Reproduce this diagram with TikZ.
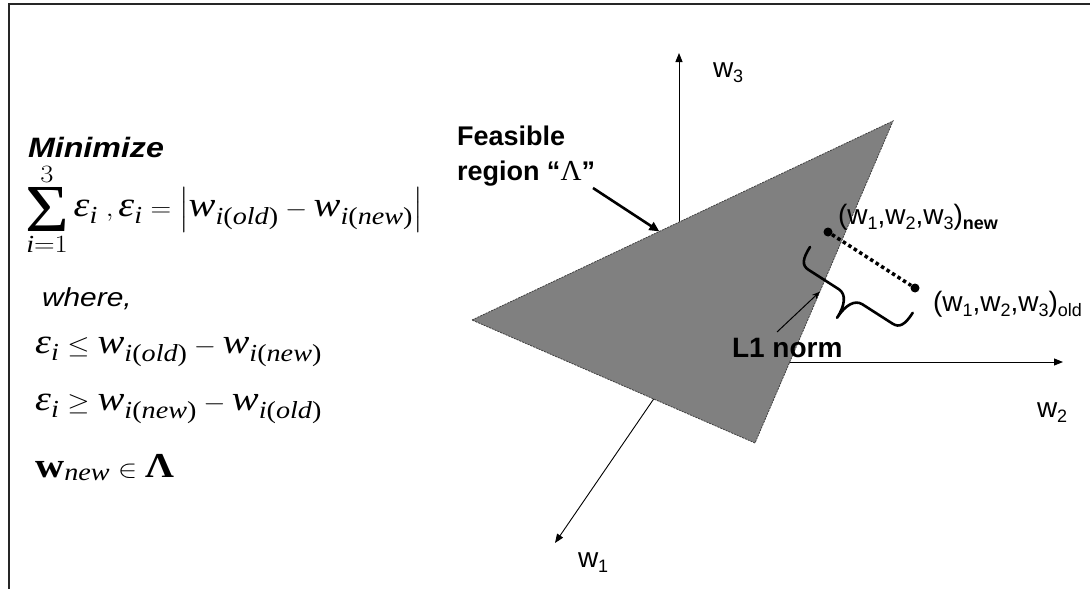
\documentclass[tikz,border=0pt]{standalone}
\usepackage{amsmath}
\usepackage{graphicx}
\usepackage{fontspec}
\setmainfont{Liberation Serif}
\setsansfont{Liberation Sans}
\usetikzlibrary{arrows.meta,calc}
\newcommand{\mi}[1]{\textit{#1}}
\newcommand{\eps}{\mi{ε}}
\newcommand{\wold}{\mi{w}_{\mi{i}\textup{(}\mi{old}\textup{)}}}
\newcommand{\wnew}{\mi{w}_{\mi{i}\textup{(}\mi{new}\textup{)}}}
\newcommand{\bigsig}{\mathop{\vcenter{\hbox{\resizebox{38pt}{44pt}{Σ}}}}\limits}
\newcommand{\lsub}[1]{\raisebox{-5pt}{\fontsize{18}{18}\selectfont #1}}
\newcommand{\hs}[1]{\scalebox{1.15}[1]{#1}}
\tikzset{
  lbl/.style={anchor=base west, inner sep=0pt, outer sep=0pt},
  eqn/.style={anchor=base west, inner sep=0pt, font=\fontsize{35}{40}\selectfont},
  axisline/.style={line width=0.9pt, -{Triangle[length=9pt,width=7pt]}},
  sanslbl/.style={lbl, font=\sffamily\fontsize{28}{30}\selectfont},
  boldlbl/.style={lbl, font=\sffamily\bfseries\fontsize{27}{30}\selectfont},
  dot/.style={circle, fill=black, inner sep=0pt, minimum size=9pt},
  region/.style={fill=black!50, draw=black!75, line width=0.8pt, dash pattern=on 2pt off 1pt},
  bracestroke/.style={line width=2.6pt, line cap=round, line join=round}
}
\begin{document}
\begin{tikzpicture}[x=1pt,y=-1pt]
\useasboundingbox (0,0) rectangle (1090,589);
% frame
\coordinate (ftl) at (9,4);
\coordinate (ftr) at (1090,4);
\coordinate (fbl) at (9,589);
\draw[line width=1.6pt, black!85] (ftr) -- (ftl) -- (fbl);

% left side: objective and constraints
\node[lbl, font=\sffamily\bfseries\itshape\fontsize{28}{30}\selectfont] (minz) at (28,157) {\hs{Minimize}};
\node[eqn] (sumeq) at (25,216) {\hs{$\displaystyle\bigsig_{\mi{i}=1}^{3}\eps_{\mi{i}}\;,\eps_{\mi{i}}=\left|\wold-\wnew\right|$}};
\node[lbl, font=\sffamily\itshape\fontsize{26}{30}\selectfont] (where) at (42,306) {\hs{where,}};
\node[eqn] (c1) at (35,353) {\hs{$\eps_{\mi{i}}\leq\wold-\wnew$}};
\node[eqn] (c2) at (35,410) {\hs{$\eps_{\mi{i}}\geq\wnew-\wold$}};
\node[eqn] (c3) at (35,477) {\hs{$\textbf{w}_{\mi{new}}\in\textbf{Λ}$}};

% axes
\coordinate (O) at (679,362);
\coordinate (w3t) at (679,53);
\coordinate (w2t) at (1063,362);
\coordinate (w1t) at (555,543);
\draw[axisline] (O) -- (w3t);
\draw[axisline] (O) -- (w2t);
\draw[axisline] (O) -- (w1t);
\node[sanslbl] (lw3) at (713,77) {w\lsub{3}};
\node[sanslbl] (lw2) at (1037,417) {w\lsub{2}};
\node[sanslbl] (lw1) at (578,567) {w\lsub{1}};

% feasible region
\coordinate (A) at (472,320);
\coordinate (B) at (893,121);
\coordinate (C) at (755,443);
\draw[region] (A) -- (B) -- (C) -- cycle;

% feasible label and arrow
\node[boldlbl] (feas1) at (457,145) {Feasible};
\node[boldlbl] (feas2) at (457,180) {region “{\rmfamily\mdseries\fontsize{29}{30}\selectfont Λ}”};
\coordinate (fs) at (593,188);
\coordinate (fe) at ($(A)!0.445!(B)$);
\draw[line width=2.6pt, -{Triangle[length=10pt,width=9pt]}] (fs) -- (fe);

% points
\node[dot] (pnew) at (828,232) {};
\node[dot] (pold) at (915,288) {};
\draw[line width=3.5pt, dash pattern=on 3.5pt off 3pt] (pnew) -- (pold);
\node[sanslbl] (lnew) at (838,224) {(w\lsub{1},w\lsub{2},w\lsub{3})\lsub{\bfseries new}};
\node[sanslbl] (lold) at (933,311) {(w\lsub{1},w\lsub{2},w\lsub{3})\lsub{old}};

% brace (local frame: x along the pair, y towards the tip)
\begin{scope}[shift={(810,247)}, rotate=-32.65]
  \draw[bracestroke] (0,0) .. controls (0,14) and (3,20) .. (11,20)
    -- (47,20) .. controls (56,20) and (61,30) .. (61,45)
    .. controls (61,30) and (66,20) .. (75,20)
    -- (111,20) .. controls (119,20) and (122,14) .. (122,0);
\end{scope}

% L1 norm label
\node[lbl, font=\sffamily\bfseries\fontsize{28}{30}\selectfont] (l1) at (732,357) {L1 norm};
\coordinate (ls) at (777,332);
\coordinate (le) at ($(B)!0.53!(C)$);
\draw[line width=1pt, -{Stealth[length=8pt,width=6pt]}] (ls) -- (le);
\end{tikzpicture}
\end{document}
